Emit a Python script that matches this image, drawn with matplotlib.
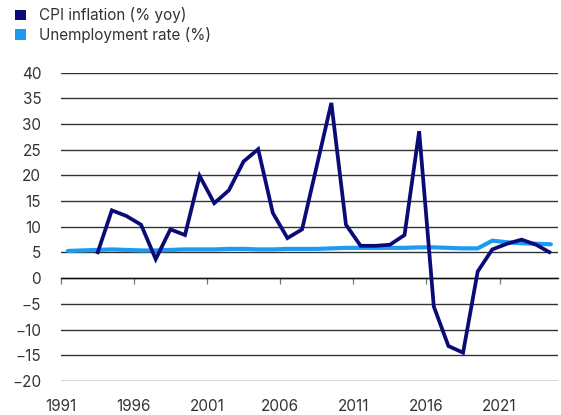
import matplotlib
matplotlib.use("Agg")
import matplotlib.pyplot as plt
from matplotlib.patches import Patch
import numpy as np

# Annual series
years = list(range(1991, 2025))
cpi_years = list(range(1993, 2025))
cpi_inflation = [4.7, 13.2, 12.1, 10.4, 3.7, 9.5, 8.4, 19.9, 14.6, 17.1,
                 22.7, 25.1, 12.7, 7.8, 9.5, 21.8, 34.1, 10.4, 6.3, 6.3,
                 6.5, 8.4, 28.6, -5.5, -13.2, -14.5, 1.3, 5.6, 6.7, 7.5,
                 6.5, 4.9]
unemployment = [5.3, 5.4, 5.5, 5.6, 5.5, 5.4, 5.4, 5.5, 5.6, 5.6,
                5.6, 5.7, 5.7, 5.6, 5.6, 5.7, 5.7, 5.7, 5.8, 5.9,
                5.9, 5.9, 5.9, 5.9, 6.0, 6.0, 5.9, 5.8, 5.8, 7.3,
                7.0, 6.8, 6.7, 6.6]
y_ticks = list(range(-20, 45, 5))
x_tick_labels = [str(y) for y in years[::5]]

CPI_COLOR = "#0b0b78"
UNEMP_COLOR = "#1b9cf2"
TEXT_COLOR = "#333333"

plt.rcParams["font.family"] = ["Inter", "DejaVu Sans"]

fig = plt.figure(figsize=(5.61, 4.15), dpi=100)
ax = fig.add_axes([0.108, 0.082, 0.887, 0.743])

first = years[0]
x_unemp = np.array(years) - first + 0.5
x_cpi = np.array(cpi_years) - first + 0.5

ax.plot(x_unemp, unemployment, color=UNEMP_COLOR, lw=3.0,
        solid_capstyle="round", solid_joinstyle="round", zorder=3)
ax.plot(x_cpi, cpi_inflation, color=CPI_COLOR, lw=2.7,
        solid_capstyle="butt", solid_joinstyle="miter", zorder=4)

ax.set_xlim(0, len(years))
ax.set_ylim(-20, 40)

# Horizontal gridlines
ax.set_yticks(y_ticks)
ax.yaxis.grid(True, color="#333333", lw=1.0)
ax.set_axisbelow(True)
ax.tick_params(axis="y", length=0, pad=14, labelsize=11, labelcolor=TEXT_COLOR)
for lab in ax.get_yticklabels():
    lab.set_horizontalalignment("right")

# Category axis drawn along zero with tick marks, labels along the bottom
for side in ["top", "right", "left"]:
    ax.spines[side].set_visible(False)
ax.spines["bottom"].set_position(("data", 0))
ax.spines["bottom"].set_color("#111111")
ax.spines["bottom"].set_linewidth(1.0)
tick_pos = np.arange(0, len(years), 5)
ax.set_xticks(tick_pos)
ax.tick_params(axis="x", direction="out", length=4, width=0.9,
               color="#777777", labelbottom=False)

sec = ax.secondary_xaxis("bottom")
sec.set_xticks(tick_pos)
sec.set_xticklabels(x_tick_labels)
sec.tick_params(length=0, pad=13, labelsize=11, labelcolor=TEXT_COLOR)
sec.spines["bottom"].set_visible(False)

handles = [Patch(facecolor=CPI_COLOR, edgecolor="none"),
           Patch(facecolor=UNEMP_COLOR, edgecolor="none")]
fig.legend(handles, ["CPI inflation (% yoy)", "Unemployment rate (%)"],
           loc="upper left", bbox_to_anchor=(0.008, 1.008), frameon=False,
           handlelength=0.7, handleheight=0.7, handletextpad=0.85,
           labelspacing=0.25, fontsize=11, labelcolor=TEXT_COLOR,
           borderaxespad=0.3)

fig.savefig("out.png", dpi=100)
